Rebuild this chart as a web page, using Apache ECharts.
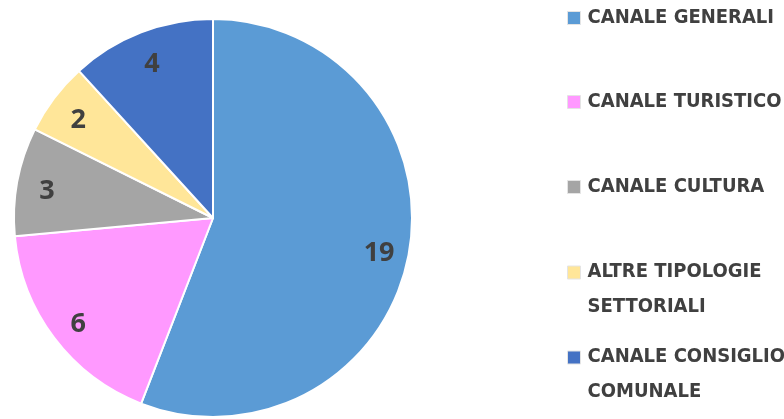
<!DOCTYPE html>
<html>
<head>
<meta charset="utf-8">
<style>
html,body{margin:0;padding:0;background:#fff;}
#c{width:784px;height:419px;}
</style>
<script src="https://cdn.jsdelivr.net/npm/echarts@6/dist/echarts.min.js"></script>
</head>
<body>
<div id="c"></div>
<script>
const categories = ['CANALE GENERALI', 'CANALE TURISTICO', 'CANALE CULTURA', 'ALTRE TIPOLOGIE\nSETTORIALI', 'CANALE CONSIGLIO\nCOMUNALE'];
const values = [19, 6, 3, 2, 4];
const colors = ['#5B9BD5', '#FF99FF', '#A5A5A5', '#FFE699', '#4472C4'];

const textColor = '#404040';
const font = "'DejaVu Sans Condensed', 'DejaVu Sans', sans-serif";
const legendTops = [0.5, 84.5, 169.5, 254.5, 339.5];

const data = categories.map((c, i) => ({ name: c, value: values[i], itemStyle: { color: colors[i] } }));

const legends = categories.map((c, i) => {
  const twoLine = c.indexOf('\n') >= 0;
  return {
    orient: 'vertical',
    left: 567,
    top: legendTops[i],
    padding: 0,
    data: [c],
    itemWidth: 13,
    itemHeight: twoLine ? 47 : 13,
    icon: twoLine ? 'path://M0,0H13V13H0Z M0,47' : 'rect',
    itemStyle: { borderColor: '#e4e4e4', borderWidth: 1 },
    selectedMode: false,
    textStyle: {
      color: textColor, fontFamily: font, fontWeight: 'bold', fontSize: 20,
      lineHeight: 35, padding: [0, 0, 0, 2]
    }
  };
});

const chart = echarts.init(document.getElementById('c'), null, { renderer: 'canvas' });
chart.setOption({
  animation: false,
  backgroundColor: '#ffffff',
  legend: legends,
  series: [
    {
      type: 'pie',
      center: [213, 218],
      radius: [0, 199],
      startAngle: 90,
      clockwise: true,
      data: data,
      label: { show: false },
      labelLine: { show: false },
      itemStyle: { borderColor: '#ffffff', borderWidth: 2 },
      emphasis: { disabled: true }
    },
    {
      type: 'pie',
      center: [213, 222],
      radius: [133, 199],
      startAngle: 90,
      clockwise: true,
      silent: true,
      data: categories.map((c, i) => ({ name: c + ' ', value: values[i] })),
      itemStyle: { color: 'rgba(0,0,0,0)' },
      label: {
        show: true, position: 'inside', formatter: '{c}',
        color: textColor, fontFamily: "'Open Sans', sans-serif", fontWeight: 'bold', fontSize: 27
      },
      labelLine: { show: false },
      emphasis: { disabled: true }
    }
  ]
});
</script>
</body>
</html>
